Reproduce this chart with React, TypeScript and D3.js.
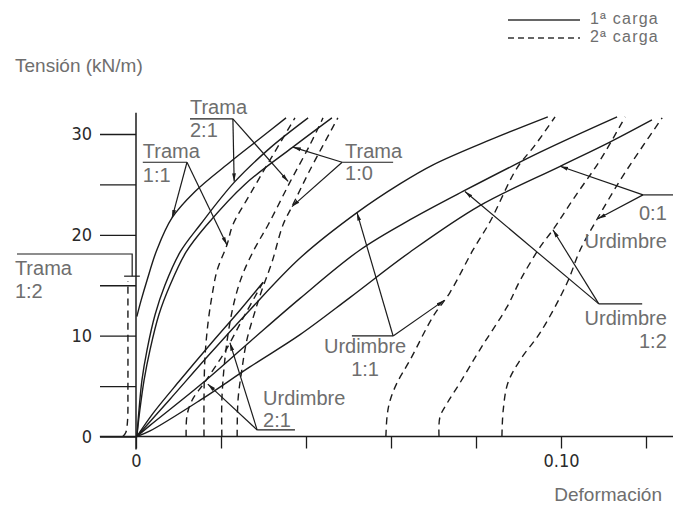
import * as d3 from "d3";
import { useEffect, useRef } from "react";

type Pt = [number, number];

// [deformación, tensión kN/m]
// 1ª carga (solid)
const tramaUnoUno: Pt[] = [[0.0002, 11.9], [0.0012, 13.5], [0.0026, 15.5], [0.0049, 18.5], [0.0085, 21.7], [0.0139, 24.3], [0.0221, 27.2], [0.0287, 29.4], [0.0353, 31.6]];
const tramaDosUno: Pt[] = [[0.0002, 0], [0.0007, 2.6], [0.0014, 5.6], [0.0026, 8.6], [0.0045, 12.1], [0.0068, 15.0], [0.0104, 18.3], [0.0151, 21.0], [0.0231, 25.2], [0.0315, 28.6], [0.0405, 31.6]];
const tramaUnoCero: Pt[] = [[0.0002, 0], [0.0009, 2.6], [0.0019, 5.6], [0.0033, 8.6], [0.0054, 12.1], [0.008, 15.0], [0.0118, 18.3], [0.0167, 21.0], [0.0256, 25.0], [0.0369, 28.7], [0.0461, 31.6]];
const urdDosUno: Pt[] = [[0.0002, 0], [0.004, 2.3], [0.0104, 5.6], [0.0174, 9.1], [0.0245, 12.55], [0.0299, 15.3]];
const urdUnoUno: Pt[] = [[0.0002, 0], [0.008, 3.7], [0.0174, 8.2], [0.0268, 12.55], [0.0386, 17.7], [0.052, 22.2], [0.0621, 25.05], [0.0699, 26.94], [0.0833, 29.41], [0.0969, 31.7]];
const urdUnoDos: Pt[] = [[0.0002, 0], [0.0033, 1.1], [0.0151, 5.1], [0.0268, 9.4], [0.0386, 13.7], [0.0527, 18.5], [0.0645, 21.5], [0.0769, 24.3], [0.0951, 28.2], [0.1132, 31.7]];
const urdCeroUno: Pt[] = [[0.0002, 0], [0.0033, 0.55], [0.0151, 3.6], [0.0268, 6.9], [0.0386, 10.1], [0.0504, 13.8], [0.0645, 18.3], [0.0809, 22.9], [0.0998, 26.8], [0.1115, 29.2], [0.1214, 31.4]];

// 2ª carga (dashed)
const tramaUnoDos2: Pt[] = [[-0.0031, 0], [-0.0024, 0.4], [-0.002, 1.5], [-0.0019, 5], [-0.0019, 10], [-0.0019, 15.4]];
const tramaUnoUno2: Pt[] = [[0.016, 0], [0.016, 3.6], [0.0162, 7.6], [0.0169, 11.1], [0.0179, 14.0], [0.0191, 16.5], [0.0214, 19.0], [0.0228, 21.0], [0.0268, 24.0], [0.0315, 27.4], [0.0374, 31.6]];
const tramaDosUno2: Pt[] = [[0.0202, 0], [0.0202, 3.6], [0.0209, 7.6], [0.0221, 11.3], [0.0235, 14.0], [0.0252, 16.2], [0.028, 18.7], [0.0311, 21.0], [0.0362, 25.2], [0.0409, 28.9], [0.044, 31.6]];
const tramaUnoCero2: Pt[] = [[0.0238, 0], [0.024, 3.6], [0.0249, 6.6], [0.0261, 9.6], [0.028, 12.4], [0.0296, 14.5], [0.032, 17.3], [0.0346, 21.0], [0.0367, 22.8], [0.0409, 26.4], [0.0475, 31.6]];
const urdDosUno2: Pt[] = [[0.0118, 0], [0.012, 2.1], [0.0132, 3.6], [0.0162, 5.4], [0.0209, 8.4], [0.0256, 12.05], [0.0299, 15.3]];
const urdUnoUno2: Pt[] = [[0.0588, 0], [0.0591, 2.1], [0.0598, 3.6], [0.0614, 5.3], [0.0645, 7.6], [0.0699, 11.9], [0.0739, 14.3], [0.0793, 18.5], [0.0833, 21.3], [0.0896, 26.6], [0.0939, 28.9], [0.0986, 31.7]];
const urdUnoDos2: Pt[] = [[0.0713, 0], [0.0715, 1.9], [0.0732, 3.3], [0.0762, 5.3], [0.0809, 8.6], [0.0873, 12.85], [0.0904, 15.5], [0.0951, 18.8], [0.0981, 20.5], [0.1033, 23.8], [0.1092, 27.4], [0.1151, 31.7]];
const urdCeroUno2: Pt[] = [[0.0861, 0], [0.0864, 2.6], [0.0875, 5.3], [0.0904, 7.6], [0.0951, 10.3], [0.1014, 15.2], [0.1045, 18.5], [0.1087, 21.7], [0.1139, 25.4], [0.1186, 28.4], [0.1238, 31.6]];

const firstLoad = [tramaUnoUno, tramaDosUno, tramaUnoCero, urdDosUno, urdUnoUno, urdUnoDos, urdCeroUno];
const secondLoad = [tramaUnoDos2, tramaUnoUno2, tramaDosUno2, tramaUnoCero2, urdDosUno2, urdUnoUno2, urdUnoDos2, urdCeroUno2];

const yTicks = [0, 5, 10, 15, 20, 25, 30];
const yTickLabels = ["0", "", "10", "", "20", "", "30"];
const xTicks = [0, 0.02, 0.04, 0.06, 0.08, 0.1, 0.12];
const xTickLabels = ["0", "", "", "", "", "0.10", ""];

// callouts: text lines, underline bar (last point = vertex) and arrow tips, in data units
type Callout = {
  texts: { t: string; at: Pt; anchor: string }[];
  bar: Pt[];
  tips: Pt[];
};
const callouts: Callout[] = [
  { texts: [{ t: "Trama", at: [0.0127, 32.0], anchor: "start" }, { t: "2:1", at: [0.0127, 29.7], anchor: "start" }],
    bar: [[0.0127, 31.5], [0.0228, 31.5]], tips: [[0.0231, 25.3], [0.0358, 25.3]] },
  { texts: [{ t: "Trama", at: [0.0016, 27.6], anchor: "start" }, { t: "1:1", at: [0.0016, 25.25], anchor: "start" }],
    bar: [[0.0016, 27.2], [0.012, 27.2]], tips: [[0.0085, 21.7], [0.0214, 19.0]] },
  { texts: [{ t: "Trama", at: [0.0492, 27.6], anchor: "start" }, { t: "1:0", at: [0.0492, 25.4], anchor: "start" }],
    bar: [[0.0605, 27.2], [0.0485, 27.2]], tips: [[0.0369, 28.7], [0.0367, 22.8]] },
  { texts: [{ t: "Trama", at: [-0.0285, 16.0], anchor: "start" }, { t: "1:2", at: [-0.0285, 13.7], anchor: "start" }],
    bar: [[-0.028, 18.1], [-0.0009, 18.1], [-0.0009, 15.9]], tips: [] },
  { texts: [{ t: "Urdimbre", at: [0.0299, 3.1], anchor: "start" }, { t: "2:1", at: [0.0299, 0.95], anchor: "start" }],
    bar: [[0.0374, 0.65], [0.0285, 0.65]], tips: [[0.0169, 5.2], [0.0221, 9.3]] },
  { texts: [{ t: "Urdimbre", at: [0.0539, 8.3], anchor: "middle" }, { t: "1:1", at: [0.0539, 6.0], anchor: "middle" }],
    bar: [[0.0508, 9.97], [0.0605, 9.97]], tips: [[0.052, 22.2], [0.0725, 13.5]] },
  { texts: [{ t: "Urdimbre", at: [0.1249, 11.06], anchor: "end" }, { t: "1:2", at: [0.1249, 8.8], anchor: "end" }],
    bar: [[0.1191, 13.15], [0.1089, 13.15]], tips: [[0.0774, 24.3], [0.0981, 20.5]] },
  { texts: [{ t: "0:1", at: [0.1249, 21.5], anchor: "end" }, { t: "Urdimbre", at: [0.1249, 18.7], anchor: "end" }],
    bar: [[0.1264, 23.96], [0.1193, 23.96]], tips: [[0.0998, 26.8], [0.1087, 21.6]] },
];

const svgWidth = 673,
  svgHeight = 515;
const ink = "#1c1c1c";
const grey = "#6e6e6e";
const labelFont = "'Liberation Sans', Arial, sans-serif";
const tickFont = "'DejaVu Sans Condensed', 'Liberation Sans Narrow', sans-serif";

export default function App() {
  const svgRef = useRef<SVGSVGElement>(null);

  useEffect(() => {
    const svg = d3.select(svgRef.current);
    svg.selectAll("*").remove();

    const x = d3.scaleLinear().domain([0, 0.1]).range([136, 561]);
    const y = d3.scaleLinear().domain([0, 30]).range([436.5, 134]);

    svg
      .append("defs")
      .append("marker")
      .attr("id", "tip")
      .attr("viewBox", "0 0 10 10")
      .attr("refX", 10)
      .attr("refY", 5)
      .attr("markerWidth", 8)
      .attr("markerHeight", 8)
      .attr("markerUnits", "userSpaceOnUse")
      .attr("orient", "auto")
      .append("path")
      .attr("d", "M0,2.6L10,5L0,7.4Z")
      .attr("fill", ink);

    // axes
    const yAxis = svg
      .append("g")
      .attr("transform", `translate(${x(0)},0)`)
      .call(
        d3
          .axisLeft(y)
          .tickValues(yTicks)
          .tickSize(36)
          .tickPadding(8)
          .tickFormat((d, i) => yTickLabels[i])
      );
    yAxis.select(".domain").remove();
    yAxis.selectAll("line").attr("stroke", ink).attr("stroke-width", 1.3);
    yAxis
      .selectAll("text")
      .attr("font-family", tickFont)
      .attr("font-size", 18)
      .attr("fill", "#2a2a2a");

    const xAxis = svg
      .append("g")
      .attr("transform", `translate(0,${y(0)})`)
      .call(
        d3
          .axisBottom(x)
          .tickValues(xTicks)
          .tickSize(12)
          .tickPadding(6)
          .tickFormat((d, i) => xTickLabels[i])
      );
    xAxis.select(".domain").remove();
    xAxis.selectAll("line").attr("stroke", ink).attr("stroke-width", 1.3);
    xAxis
      .selectAll("text")
      .attr("font-family", tickFont)
      .attr("font-size", 18)
      .attr("fill", "#2a2a2a");

    svg
      .append("line")
      .attr("x1", x(0))
      .attr("x2", x(0))
      .attr("y1", y(32.1))
      .attr("y2", y(0) + 13)
      .attr("stroke", ink)
      .attr("stroke-width", 1.5);
    svg
      .append("line")
      .attr("x1", x(-0.0085))
      .attr("x2", svgWidth)
      .attr("y1", y(0))
      .attr("y2", y(0))
      .attr("stroke", ink)
      .attr("stroke-width", 1.5);

    // curves
    const line = d3
      .line<Pt>()
      .x((d) => x(d[0]))
      .y((d) => y(d[1]))
      .curve(d3.curveCatmullRom.alpha(0.5));

    svg
      .append("g")
      .selectAll("path")
      .data(firstLoad)
      .join("path")
      .attr("d", line)
      .attr("fill", "none")
      .attr("stroke", ink)
      .attr("stroke-width", 1.4);

    svg
      .append("g")
      .selectAll("path")
      .data(secondLoad)
      .join("path")
      .attr("d", line)
      .attr("fill", "none")
      .attr("stroke", ink)
      .attr("stroke-width", 1.4)
      .attr("stroke-dasharray", "7,5");

    // small bracket at top of the Trama 1:2 reload
    svg
      .append("line")
      .attr("x1", x(-0.0028))
      .attr("x2", x(0.0009))
      .attr("y1", y(15.9))
      .attr("y2", y(15.9))
      .attr("stroke", ink)
      .attr("stroke-width", 1.2);

    // callouts
    const notes = svg.append("g");
    callouts.forEach((c) => {
      notes
        .append("path")
        .attr("d", d3.line<Pt>().x((d) => x(d[0])).y((d) => y(d[1]))(c.bar))
        .attr("fill", "none")
        .attr("stroke", ink)
        .attr("stroke-width", 1.2);
      const v = c.bar[c.bar.length - 1];
      c.tips.forEach((t) => {
        notes
          .append("line")
          .attr("x1", x(v[0]))
          .attr("y1", y(v[1]))
          .attr("x2", x(t[0]))
          .attr("y2", y(t[1]))
          .attr("stroke", ink)
          .attr("stroke-width", 1.2)
          .attr("marker-end", "url(#tip)");
      });
      c.texts.forEach((tx) => {
        notes
          .append("text")
          .attr("x", x(tx.at[0]))
          .attr("y", y(tx.at[1]))
          .attr("text-anchor", tx.anchor)
          .attr("font-family", labelFont)
          .attr("font-size", 20)
          .attr("fill", grey)
          .text(tx.t);
      });
    });

    // axis titles
    svg
      .append("text")
      .attr("x", 15)
      .attr("y", 72)
      .attr("font-family", labelFont)
      .attr("font-size", 19)
      .attr("fill", grey)
      .text("Tensión (kN/m)");
    svg
      .append("text")
      .attr("x", 662)
      .attr("y", 501)
      .attr("text-anchor", "end")
      .attr("font-family", labelFont)
      .attr("font-size", 19)
      .attr("fill", grey)
      .text("Deformación");

    // legend
    const legend = svg.append("g");
    [
      { label: "1ª carga", dash: null, yy: 20 },
      { label: "2ª carga", dash: "6,4", yy: 38 },
    ].forEach((l) => {
      legend
        .append("line")
        .attr("x1", 508)
        .attr("x2", 580)
        .attr("y1", l.yy)
        .attr("y2", l.yy)
        .attr("stroke", "#333")
        .attr("stroke-width", 1.4)
        .attr("stroke-dasharray", l.dash);
      legend
        .append("text")
        .attr("x", 590)
        .attr("y", l.yy + 4)
        .attr("font-family", labelFont)
        .attr("font-size", 16)
        .attr("letter-spacing", 1.2)
        .attr("fill", grey)
        .text(l.label);
    });
  }, []);

  return (
    <svg
      ref={svgRef}
      width={svgWidth}
      height={svgHeight}
      style={{ position: "absolute", left: 0, top: 0, background: "#fff" }}
    />
  );
}
